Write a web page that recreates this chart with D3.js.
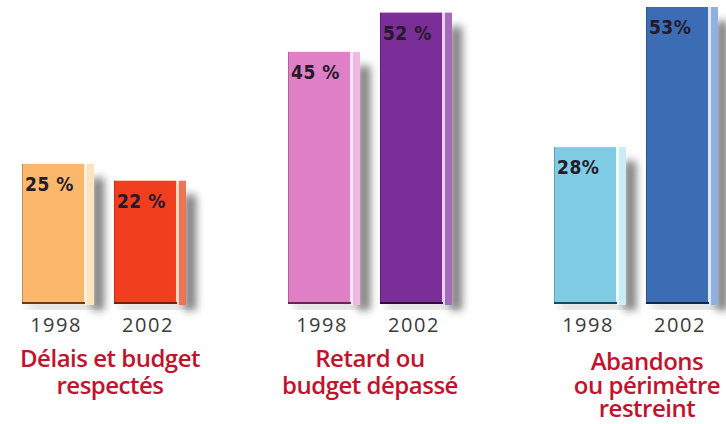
<!DOCTYPE html>
<html>
<head>
<meta charset="utf-8">
<script src="https://cdn.jsdelivr.net/npm/d3@7"></script>
<style>
  body { margin: 0; background: #fff; }
  svg { display: block; }
</style>
</head>
<body>
<svg width="726" height="424"></svg>
<script>
// data
const categories = ['delais', 'retard', 'abandons'];
const categoryLines = [
  ['Délais et budget', 'respectés'],
  ['Retard ou', 'budget dépassé'],
  ['Abandons', 'ou périmètre', 'restreint']
];
const years = ['1998', '2002'];
const values1998 = [25, 45, 28];
const values2002 = [22, 52, 53];
const labels1998 = ['25 %', '45 %', '28%'];
const labels2002 = ['22 %', '52 %', '53%'];

// colours per bar: face, highlight strip, side, bottom edge
const colors = [
  [['#fbb86c', '#fff0dc', '#fde2c0', '#6b3a10'], ['#f03e1f', '#fdd6c4', '#ec7558', '#7a1a08']],
  [['#df7fc6', '#fce6f6', '#f1b8e2', '#6a2456'], ['#7b2e97', '#ead2f2', '#a56bba', '#2c0c3a']],
  [['#80cce5', '#f2fbff', '#c9ecf6', '#1e4a60'], ['#3c6cb4', '#dde9f8', '#8fb1e1', '#10264a']]
];

const svg = d3.select('svg');
const baseline = 304;

const yScale = d3.scaleLinear()
  .domain([0, 53])
  .range([baseline, 7]);

const xGroup = d3.scaleBand()
  .domain(categories)
  .range([22, 22 + 266 * 3])
  .paddingInner(0);

const xYear = d3.scaleBand()
  .domain(years)
  .range([0, 164])
  .paddingInner(0.217);

const faceW = 62;
const hiW = 3;
const sideW = xYear.bandwidth() - faceW - hiW;

// blur for the drop shadows
const defs = svg.append('defs');
defs.append('filter')
  .attr('id', 'blur')
  .attr('x', '-80%').attr('y', '-20%')
  .attr('width', '260%').attr('height', '140%')
  .append('feGaussianBlur')
  .attr('stdDeviation', 4.5);

// flatten into bar records
const bars = [];
categories.forEach((c, i) => {
  bars.push({cat: c, year: '1998', value: values1998[i], label: labels1998[i], col: colors[i][0]});
  bars.push({cat: c, year: '2002', value: values2002[i], label: labels2002[i], col: colors[i][1]});
});

const g = svg.append('g');

// shadows first so the bars sit on top
g.selectAll('.shadow')
  .data(bars)
  .join('rect')
  .attr('class', 'shadow')
  .attr('x', d => xGroup(d.cat) + xYear(d.year) + xYear.bandwidth() - 2)
  .attr('y', d => yScale(d.value) + 14)
  .attr('width', 12)
  .attr('height', d => baseline - yScale(d.value) - 8)
  .attr('fill', '#4a4a4a')
  .attr('opacity', 0.72)
  .attr('filter', 'url(#blur)');

g.selectAll('.shadowBottom')
  .data(bars)
  .join('rect')
  .attr('class', 'shadowBottom')
  .attr('x', d => xGroup(d.cat) + xYear(d.year) + 6)
  .attr('y', baseline)
  .attr('width', xYear.bandwidth())
  .attr('height', 5)
  .attr('fill', '#8a8a8a')
  .attr('opacity', 0.5)
  .attr('filter', 'url(#blur)');

// side of the bar
g.selectAll('.side')
  .data(bars)
  .join('rect')
  .attr('class', 'side')
  .attr('x', d => xGroup(d.cat) + xYear(d.year) + faceW + hiW)
  .attr('y', d => yScale(d.value))
  .attr('width', sideW)
  .attr('height', d => baseline - yScale(d.value) + 1)
  .attr('fill', d => d.col[2]);

g.selectAll('.hi')
  .data(bars)
  .join('rect')
  .attr('class', 'hi')
  .attr('x', d => xGroup(d.cat) + xYear(d.year) + faceW)
  .attr('y', d => yScale(d.value))
  .attr('width', hiW)
  .attr('height', d => baseline - yScale(d.value) + 1)
  .attr('fill', d => d.col[1]);

g.selectAll('.face')
  .data(bars)
  .join('rect')
  .attr('class', 'face')
  .attr('x', d => xGroup(d.cat) + xYear(d.year))
  .attr('y', d => yScale(d.value))
  .attr('width', faceW)
  .attr('height', d => baseline - yScale(d.value))
  .attr('fill', d => d.col[0]);

// thin dark line at the left and bottom of the face
g.selectAll('.leftEdge')
  .data(bars)
  .join('rect')
  .attr('class', 'leftEdge')
  .attr('x', d => xGroup(d.cat) + xYear(d.year))
  .attr('y', d => yScale(d.value))
  .attr('width', 1)
  .attr('height', d => baseline - yScale(d.value))
  .attr('fill', d => d.col[3])
  .attr('opacity', 0.35);

g.selectAll('.bottomEdge')
  .data(bars)
  .join('rect')
  .attr('class', 'bottomEdge')
  .attr('x', d => xGroup(d.cat) + xYear(d.year))
  .attr('y', baseline - 2)
  .attr('width', faceW + 1)
  .attr('height', 2)
  .attr('fill', d => d.col[3]);

// value labels inside the top of each bar
g.selectAll('.val')
  .data(bars)
  .join('text')
  .attr('class', 'val')
  .attr('x', d => xGroup(d.cat) + xYear(d.year) + 3)
  .attr('y', d => yScale(d.value) + 27)
  .text(d => d.label)
  .style('font-family', '"DejaVu Sans Condensed", "Liberation Sans Narrow", sans-serif')
  .style('font-weight', 'bold')
  .style('font-size', '19px')
  .style('letter-spacing', '0.5px')
  .attr('fill', '#231a2a');

// year labels under each bar
g.selectAll('.year')
  .data(bars)
  .join('text')
  .attr('class', 'year')
  .attr('x', d => xGroup(d.cat) + xYear(d.year) + faceW / 2 + 3)
  .attr('y', 332)
  .attr('text-anchor', 'middle')
  .text(d => d.year)
  .style('font-family', '"Open Sans", sans-serif')
  .style('font-size', '20px')
  .style('letter-spacing', '1.5px')
  .attr('fill', '#3a3a3a');

// category titles
const titleX = [110, 370, 647];
const titleY = [[367, 394], [367, 394], [370, 394, 417]];
categories.forEach((c, i) => {
  g.append('text')
    .attr('class', 'title')
    .attr('text-anchor', 'middle')
    .selectAll('tspan')
    .data(categoryLines[i])
    .join('tspan')
    .attr('x', titleX[i])
    .attr('y', (d, j) => titleY[i][j])
    .text(d => d)
    .style('font-family', '"Open Sans", sans-serif')
    .style('font-weight', '600')
    .style('font-size', '24px')
    .style('letter-spacing', '-0.5px')
    .attr('fill', '#c0132d');
});
</script>
</body>
</html>
